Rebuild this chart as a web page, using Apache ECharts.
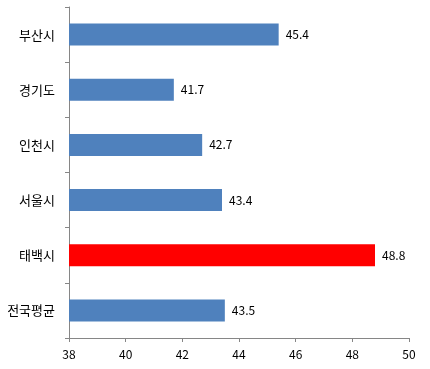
<!DOCTYPE html>
<html>
<head>
<meta charset="utf-8">
<script src="https://cdn.jsdelivr.net/npm/echarts@6/dist/echarts.min.js"></script>
<style>
  html, body { margin: 0; padding: 0; background: #fff; }
  #chart { width: 430px; height: 369px; }
</style>
</head>
<body>
<div id="chart"></div>
<script>
// 지역별 값
const regions = ['부산시', '경기도', '인천시', '서울시', '태백시', '전국평균'];
const values = [45.4, 41.7, 42.7, 43.4, 48.8, 43.5];
const highlightRegion = '태백시';

const axisColor = '#868686';
const fontFamily = '"Noto Sans CJK KR", "DejaVu Sans", sans-serif';

let chart = echarts.init(document.getElementById('chart'));

let barData = values.map((v, i) => {
	return {
		value: v,
		itemStyle: { color: regions[i] === highlightRegion ? '#FF0000' : '#4F81BD' }
	};
});

chart.setOption({
	animation: false,
	grid: { left: 69, right: 21, top: 7, bottom: 31 },
	xAxis: {
		type: 'value',
		min: 38,
		max: 50,
		interval: 2,
		axisLine: { show: true, lineStyle: { color: axisColor } },
		axisTick: { show: true, length: 4, lineStyle: { color: axisColor } },
		splitLine: { show: false },
		axisLabel: { color: '#000', fontSize: 12, margin: 10, fontFamily: fontFamily }
	},
	yAxis: {
		type: 'category',
		data: regions,
		inverse: true,
		axisLine: { show: true, lineStyle: { color: axisColor } },
		axisTick: { show: true, length: 4, lineStyle: { color: axisColor } },
		axisLabel: { color: '#000', fontSize: 13, margin: 14, fontFamily: fontFamily }
	},
	series: [{
		type: 'bar',
		data: barData,
		barWidth: 22,
		label: {
			show: true,
			position: 'right',
			distance: 7,
			color: '#000',
			fontSize: 12,
			fontFamily: fontFamily
		}
	}]
});
</script>
</body>
</html>
